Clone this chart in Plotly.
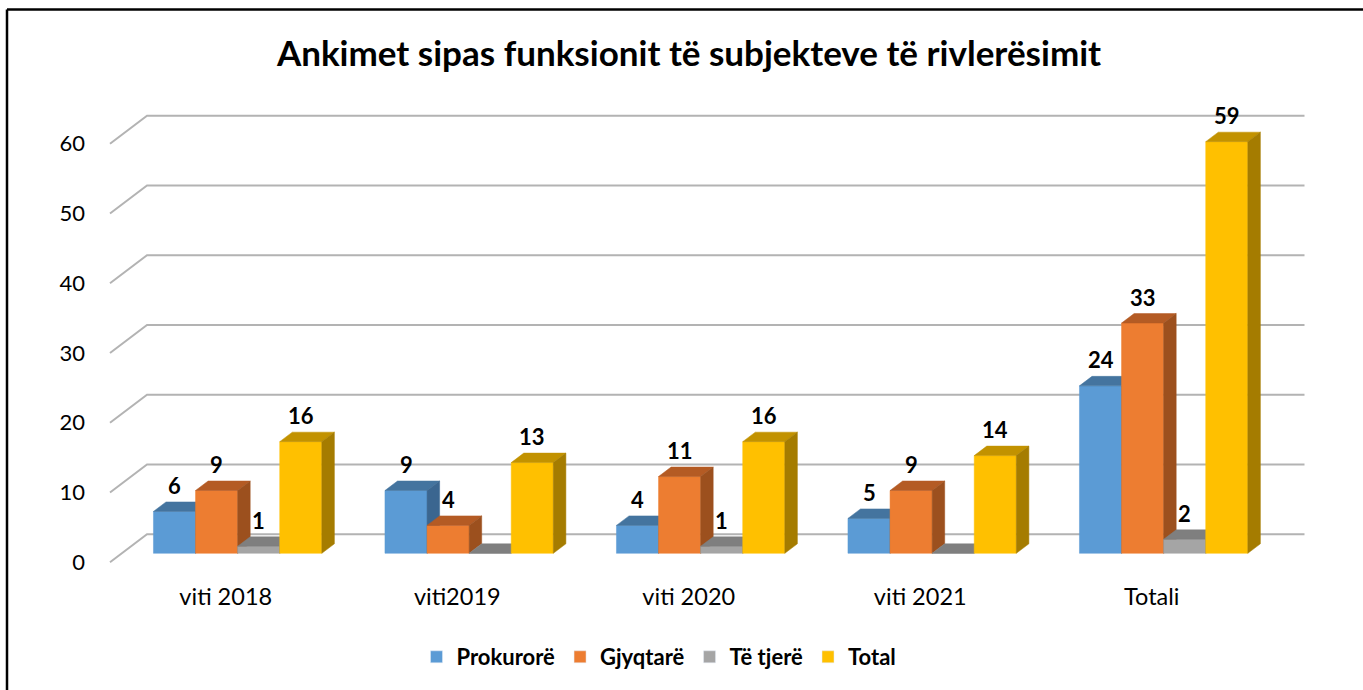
import plotly.graph_objects as go

# ---------------- data ----------------
categories = ["viti 2018", "viti2019", "viti 2020", "viti 2021", "Totali"]
series_names = ["Prokurorë", "Gjyqtarë", "Të tjerë", "Total"]
prokurore = [6, 9, 4, 5, 24]
gjyqtare = [9, 4, 11, 9, 33]
te_tjere = [1, 0, 1, 0, 2]
total = [16, 13, 16, 14, 59]
y_ticks = [0, 10, 20, 30, 40, 50, 60]
title_text = "Ankimet sipas funksionit të subjekteve të rivlerësimit"

# ---------------- styles ----------------
front_colors = ["#5B9BD5", "#ED7D31", "#A5A5A5", "#FFC000"]
top_colors = ["#44749F", "#B45B24", "#7F7F7F", "#C29200"]
side_colors = ["#3B6690", "#9C501E", "#6E6E6E", "#A57C00"]
FONT = "Lato"

# ---------------- geometry (pixel calibration) ----------------
W, H = 1363, 690
PX_L, PX_R, PX_T, PX_B = 100, 1320, 90, 580      # plot area in pixels
X0_PX = 110.0          # pixel of front-left floor corner
CAT_PX = 231.5         # pixels per category (front plane)
Y0_PX = 562.3          # pixel of value 0 on front plane
VAL_PX = 6.977         # pixels per value unit
DEPTH_X_PX, DEPTH_Y_PX = 37.0, 28.0   # full depth offset (right, up)

DXn = DEPTH_X_PX / CAT_PX            # depth offset in x units
DY = DEPTH_Y_PX / VAL_PX             # depth offset in y units
w = 1 / 5.5                          # bar width (gap width 150%)
gap_half = 0.75 * w
d1, d2 = 9.0 / 28.0, 18.5 / 28.0     # bar depth range (front->back fraction)
ddx, ddy = (d2 - d1) * DXn, (d2 - d1) * DY

x_range = [(PX_L - X0_PX) / CAT_PX, (PX_R - X0_PX) / CAT_PX]
y_range = [(Y0_PX - PX_B) / VAL_PX, (Y0_PX - PX_T) / VAL_PX]

def paper_x(px):
    return (px - PX_L) / (PX_R - PX_L)

def paper_y(py):
    return (PX_B - py) / (PX_B - PX_T)

fig = go.Figure()

# ---------------- perspective gridlines ----------------
n_cat = len(categories)
for v in y_ticks:
    fig.add_trace(go.Scatter(
        x=[0, DXn, n_cat + DXn], y=[v, v + DY, v + DY],
        mode="lines", line=dict(color="#B3B3B3", width=2),
        hoverinfo="skip", showlegend=False))

# ---------------- 3D bars (painter's order) ----------------
all_series = [prokurore, gjyqtare, te_tjere, total]
annotations = []
for i in range(n_cat):
    for j, vals in enumerate(all_series):
        v = vals[i]
        x0 = i + gap_half + j * w + d1 * DXn
        x1 = x0 + w
        yb = d1 * DY
        yt = v + d1 * DY
        # front face
        fig.add_trace(go.Scatter(
            x=[x0, x1, x1, x0, x0], y=[yb, yb, yt, yt, yb],
            fill="toself", fillcolor=front_colors[j], mode="lines",
            line=dict(color=front_colors[j], width=0.5),
            hoverinfo="skip", showlegend=False))
        # top face
        fig.add_trace(go.Scatter(
            x=[x0, x1, x1 + ddx, x0 + ddx, x0],
            y=[yt, yt, yt + ddy, yt + ddy, yt],
            fill="toself", fillcolor=top_colors[j], mode="lines",
            line=dict(color=top_colors[j], width=0.5),
            hoverinfo="skip", showlegend=False))
        # side face
        if v > 0:
            fig.add_trace(go.Scatter(
                x=[x1, x1 + ddx, x1 + ddx, x1, x1],
                y=[yb, yb + ddy, yt + ddy, yt, yb],
                fill="toself", fillcolor=side_colors[j], mode="lines",
                line=dict(color=side_colors[j], width=0.5),
                hoverinfo="skip", showlegend=False))
        if v != 0:
            annotations.append(dict(
                x=(x0 + x1) / 2, y=yt + ddy, xref="x", yref="y",
                text=f"<b>{v}</b>", showarrow=False, yanchor="bottom",
                yshift=1, font=dict(family=FONT, size=22, color="#000000")))

# ---------------- legend entries ----------------
for j, name in enumerate(series_names):
    fig.add_trace(go.Bar(x=[None], y=[None], name=f"<b>{name}</b>",
                         marker_color=front_colors[j], showlegend=True))

# ---------------- frame ----------------
shapes = [
    dict(type="line", xref="paper", yref="paper",
         x0=paper_x(7), x1=paper_x(W + 5), y0=paper_y(9.5), y1=paper_y(9.5),
         line=dict(color="#000000", width=2.5)),
    dict(type="line", xref="paper", yref="paper",
         x0=paper_x(7), x1=paper_x(7), y0=paper_y(9.5), y1=paper_y(H + 5),
         line=dict(color="#000000", width=2.5)),
]

fig.update_layout(
    width=W, height=H,
    margin=dict(l=PX_L, r=W - PX_R, t=PX_T, b=H - PX_B),
    plot_bgcolor="#FFFFFF", paper_bgcolor="#FFFFFF",
    title=dict(text=f"<b>{title_text}</b>", x=689 / W, xanchor="center",
               y=1 - 54 / H, yanchor="middle", yref="container",
               font=dict(family=FONT, size=35, color="#000000")),
    xaxis=dict(range=x_range, tickmode="array",
               tickvals=[i + 0.5 for i in range(n_cat)], ticktext=categories,
               showgrid=False, zeroline=False, showline=False, ticks="",
               ticklabelstandoff=0,
               tickfont=dict(family=FONT, size=23.5, color="#000000")),
    yaxis=dict(range=y_range, tickmode="array", tickvals=y_ticks,
               ticktext=[str(t) for t in y_ticks],
               showgrid=False, zeroline=False, showline=False, ticks="",
               ticklabelstandoff=14,
               tickfont=dict(family=FONT, size=22, color="#000000")),
    barmode="overlay",
    showlegend=True,
    legend=dict(orientation="h", x=paper_x(659), xanchor="center",
                y=paper_y(657), yanchor="middle",
                font=dict(family=FONT, size=22, color="#000000"),
                traceorder="normal", itemclick=False),
    annotations=annotations,
    shapes=shapes,
    hovermode=False,
)

fig.write_html("out.html", config={"displayModeBar": False},
               post_script="document.body.style.margin='0px';")
